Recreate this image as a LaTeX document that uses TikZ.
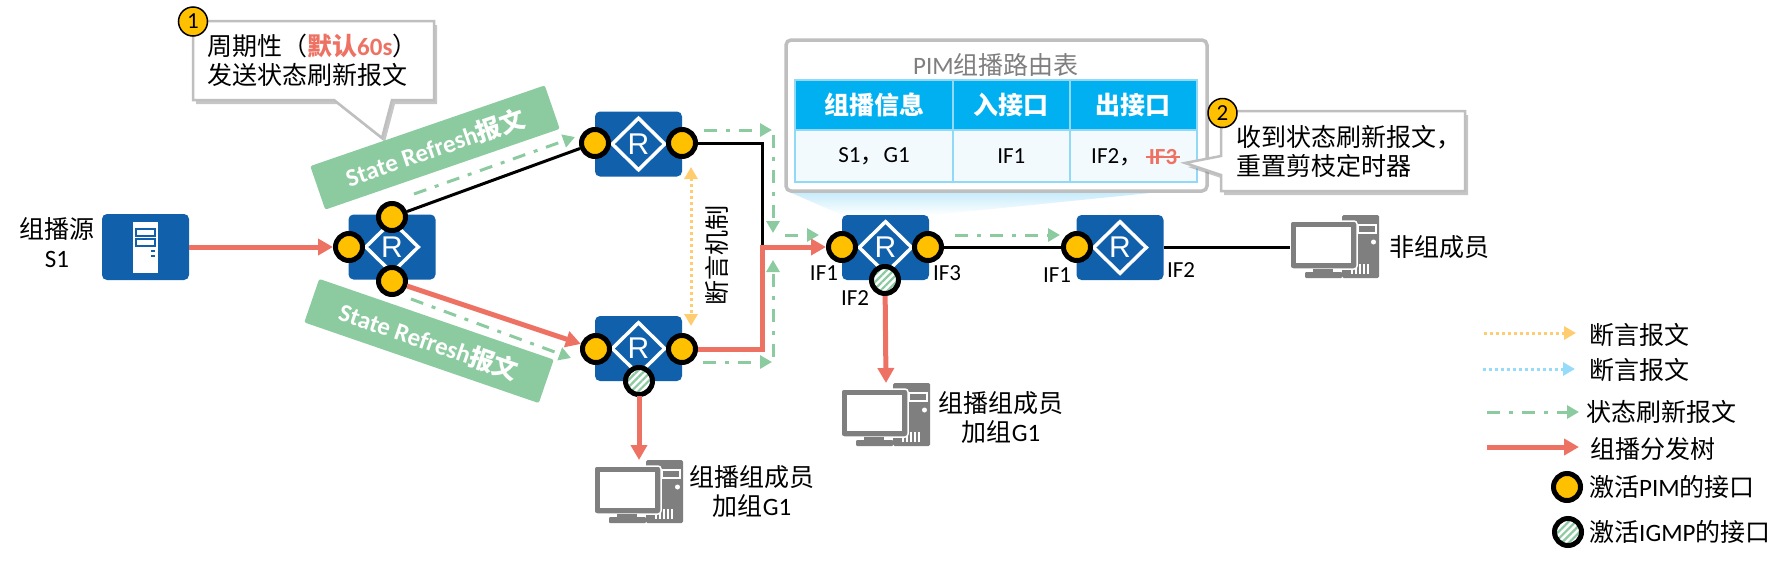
\documentclass[tikz,border=0pt]{standalone}
\usepackage{fontspec}
\setmainfont{Carlito}
\newfontfamily\cjk{Noto Sans CJK SC}
\newfontfamily\rfont{Liberation Sans}
\usetikzlibrary{arrows.meta,shapes.geometric,shadows,patterns.meta}

\definecolor{rblue}{HTML}{1160AB}
\definecolor{pimy}{HTML}{FFC000}
\definecolor{hatchg}{HTML}{8CCBA0}
\definecolor{treered}{HTML}{EE7263}
\definecolor{asserty}{HTML}{FFCC70}
\definecolor{assertb}{HTML}{97DBFB}
\definecolor{boxgray}{HTML}{BFBFBF}
\definecolor{pcgray}{HTML}{7F7F7F}
\definecolor{headblue}{HTML}{00B0F0}
\definecolor{cellblue}{HTML}{F2FAFE}
\definecolor{lineblue}{HTML}{92D9F7}

\newcommand{\zh}[1]{{\cjk #1}}

\tikzset{
  txt/.style={font=\fontsize{25}{29}\selectfont,inner sep=0pt,align=center},
  smalltxt/.style={font=\fontsize{23}{27}\selectfont,inner sep=0pt},
  router/.style={fill=rblue,rounded corners=5pt,minimum width=87pt,minimum height=65pt,inner sep=0pt},
  rmark/.style={shape=diamond,draw=white,line width=3.5pt,minimum width=54pt,minimum height=53pt,inner sep=0pt,text=white,font=\rfont\fontsize{30}{30}\selectfont},
  portbase/.style={circle,draw=black,line width=5pt,minimum size=27pt,inner sep=0pt},
  pimport/.style={portbase,fill=pimy},
  igmpport/.style={portbase,preaction={fill=white},pattern={Lines[angle=45,distance=5pt,line width=2.2pt]},pattern color=hatchg},
  badge/.style={circle,draw=black,fill=pimy,line width=1.5pt,minimum size=29pt,inner sep=0pt,font=\fontsize{23}{23}\selectfont},
  refreshtag/.style={fill=hatchg,rounded corners=2pt,minimum width=248pt,minimum height=46pt,inner sep=0pt,text=white,font=\fontsize{25}{25}\selectfont\bfseries},
  headcell/.style={draw=lineblue,line width=2pt,fill=headblue,text=white,minimum height=50pt,inner sep=0pt,font=\fontsize{25}{25}\selectfont\bfseries},
  bodycell/.style={draw=lineblue,line width=2pt,fill=cellblue,minimum height=52pt,inner sep=0pt,font=\fontsize{23}{23}\selectfont},
  note/.style={draw=boxgray,line width=2.5pt,fill=white,drop shadow={shadow xshift=3pt,shadow yshift=-4pt,opacity=.45}},
  blackline/.style={line width=3pt},
  treeline/.style={draw=treered,line width=5pt,-{Triangle[length=15pt,width=16pt]}},
  refreshline/.style={draw=hatchg,line width=3pt,dash pattern=on 13pt off 9pt on 4pt off 9pt,-{Triangle[length=12pt,width=13pt]}},
  assertline/.style={line width=3pt,dash pattern=on 3pt off 3pt,-{Triangle[length=12pt,width=13pt]}},
  pcicon/.pic={
    \fill[pcgray,rounded corners=1.5pt] (52,0) rectangle (89,63);
    \draw[white,line width=1.3pt] (68,10) rectangle (86,18);
    \fill[white] (83.5,27) circle (2.5);
    \foreach \vx in {62,66,70,74,78} \draw[white,line width=1.2pt] (\vx,49) -- (\vx,59);
    \draw[white,fill=pcgray,line width=1.5pt,rounded corners=3pt] (0,6) rectangle (67,54);
    \fill[white] (6,12) rectangle (61,48);
    \fill[pcgray] (23,54) rectangle (43,58);
    \fill[pcgray,rounded corners=1pt] (15,57) rectangle (52,63);
    \coordinate (-top) at (45,0);
    \coordinate (-left) at (0,32.5);
  }
}

\begin{document}
\begin{tikzpicture}[x=1pt,y=-1pt]
  \useasboundingbox (0,0) rectangle (1791,563);

  % callout 1 and the two green tags
  \draw[note] (193,21) -- (434,21) -- (434,100) -- (392,100) -- (382,138) -- (334,100) -- (193,100) -- cycle;
  \node[txt,align=left,anchor=west] (noteone) at (207,60.5) {\zh{周期性（}\textcolor{treered}{\bfseries\zh{默认}60s}\zh{）}\\\zh{发送状态刷新报文}};
  \node[badge] (badgeone) at (193,21.5) {1};
  \node[refreshtag,rotate=19] (tagup) at (435,147.5) {State Refresh\zh{报文}};
  \node[refreshtag,rotate=-19] (tagdown) at (429,341) {State Refresh\zh{报文}};

  % light cone below the table
  \shade[top color=lineblue!55,bottom color=white] (787,191) -- (1170,191) -- (933,215) -- (842,215) -- cycle;

  % routing table
  \draw[draw=boxgray,line width=3.5pt,fill=white,rounded corners=5pt] (786,40) rectangle (1207,191);
  \node[txt,text=pcgray] (tabletitle) at (996,65) {PIM\zh{组播路由表}};
  \node[headcell,minimum width=158pt] (headinfo) at (874,105) {\zh{组播信息}};
  \node[headcell,minimum width=116.5pt] (headin) at (1011.25,105) {\zh{入接口}};
  \node[headcell,minimum width=127.5pt] (headout) at (1133.25,105) {\zh{出接口}};
  \node[bodycell,minimum width=158pt] (bodyinfo) at (874,156) {S1\zh{，}G1};
  \node[bodycell,minimum width=116.5pt] (bodyin) at (1011.25,156) {IF1};
  \node[bodycell,minimum width=127.5pt] (bodyout) at (1133.25,156) {};
  \node[smalltxt,anchor=west] (ifkeep) at (1091,157) {IF2\zh{，}};
  \node[smalltxt,text=treered,inner xsep=3pt,font=\fontsize{23}{27}\selectfont\bfseries] (ifcut) at (1163,157) {IF3};
  \draw[treered,line width=2.5pt] (ifcut.west) -- (ifcut.east);

  % callout 2
  \draw[note] (1221,111) -- (1465,111) -- (1465,191) -- (1221,191) -- (1221,175) -- (1185,163) -- (1221,156) -- cycle;
  \node[txt,align=left,anchor=west] (notetwo) at (1236,151) {\zh{收到状态刷新报文，}\\\zh{重置剪枝定时器}};
  \node[badge] (badgetwo) at (1222.5,113) {2};

  % multicast source
  \node[fill=rblue,rounded corners=5pt,minimum width=87pt,minimum height=66pt,inner sep=0pt] (srv) at (145.5,247) {};
  \fill[white] (133,222) rectangle (158,273);
  \draw[rblue,line width=1.5pt] (136,229) rectangle (155,236);
  \draw[rblue,line width=1.5pt] (136,239) rectangle (155,246);
  \fill[rblue] (151,250) rectangle (155,252);
  \fill[rblue] (151,255) rectangle (155,257);
  \node[txt] (srvname) at (57,243) {\zh{组播源}\\S1};

  % routers
  \foreach \rname/\rx/\ry in {ra/392/247,rb/638.5/144,rc/638.5/348.5,rd/885.5/247.5,re/1120/247.5} {
    \node[router] (\rname) at (\rx,\ry) {};
    \node[rmark] (\rname m) at (\rx,\ry) {R};
  }

  % interfaces
  \node[pimport] (raw) at (349,247) {};
  \node[pimport] (ran) at (392,217) {};
  \node[pimport] (ras) at (392,281) {};
  \node[pimport] (rbw) at (595,143) {};
  \node[pimport] (rbe) at (682,143) {};
  \node[pimport] (rcw) at (596,349) {};
  \node[pimport] (rce) at (682,349) {};
  \node[igmpport] (rcs) at (639,381) {};
  \node[pimport] (rdw) at (842,247) {};
  \node[pimport] (rde) at (928,247) {};
  \node[igmpport] (rds) at (885,280) {};
  \node[pimport] (rew) at (1077,247) {};

  % hosts
  \pic (pca) at (594,460) {pcicon};
  \pic (pcb) at (841,383) {pcicon};
  \pic (pcc) at (1290,215) {pcicon};

  % black links
  \coordinate (elbow) at (762,247);
  \draw[blackline] (ran) -- (rbw);
  \draw[blackline] (rbe) -| (elbow);
  \draw[blackline] (rde) -- (rew);
  \draw[blackline] (re.east) -- (pcc-left);

  % distribution tree
  \draw[treeline] (srv) -- (raw);
  \draw[treeline] (ras) -- (rcw);
  \draw[treeline] (rce) -| (elbow) -- (rdw);
  \draw[treeline] (rcs) -- (pca-top);
  \draw[treeline] (rds) -- (pcb-top);

  % state refresh flow
  \coordinate (gaa) at (414,194);
  \coordinate (gab) at (575,137);
  \coordinate (gba) at (411,299);
  \coordinate (gbb) at (571,358);
  \coordinate (gca) at (704,130);
  \coordinate (gcb) at (772,130);
  \coordinate (gda) at (773,135);
  \coordinate (gdb) at (773,233);
  \coordinate (gea) at (785,235);
  \coordinate (geb) at (819,235);
  \coordinate (gfa) at (703,362);
  \coordinate (gfb) at (772,362);
  \coordinate (gga) at (773,357);
  \coordinate (ggb) at (773,260);
  \coordinate (gha) at (955,235);
  \coordinate (ghb) at (1060,235);
  \draw[refreshline] (gaa) -- (gab);
  \draw[refreshline] (gba) -- (gbb);
  \draw[refreshline] (gca) -- (gcb);
  \draw[refreshline] (gda) -- (gdb);
  \draw[refreshline] (gea) -- (geb);
  \draw[refreshline] (gfa) -- (gfb);
  \draw[refreshline] (gga) -- (ggb);
  \draw[refreshline] (gha) -- (ghb);

  % assert between the two upstream routers
  \coordinate (ya) at (691,167);
  \coordinate (yb) at (691,326);
  \draw[assertline,draw=asserty,{Triangle[length=12pt,width=13pt]}-{Triangle[length=12pt,width=13pt]}] (ya) -- (yb);
  \node[txt,rotate=90] (assertname) at (717,255) {\zh{断言机制}};

  % interface labels
  \node[smalltxt] (lifa) at (824,273) {IF1};
  \node[smalltxt] (lifb) at (855,298) {IF2};
  \node[smalltxt] (lifc) at (947,273) {IF3};
  \node[smalltxt] (lifd) at (1057,275) {IF1};
  \node[smalltxt] (life) at (1181,270) {IF2};

  % host labels
  \node[txt] (pcaname) at (752,492) {\zh{组播组成员}\\\zh{加组}G1};
  \node[txt] (pcbname) at (1001,417.5) {\zh{组播组成员}\\\zh{加组}G1};
  \node[txt] (pccname) at (1439,247) {\zh{非组成员}};

  % legend
  \coordinate (laa) at (1484,333);
  \coordinate (lab) at (1576,333);
  \coordinate (lba) at (1483,369);
  \coordinate (lbb) at (1575,369);
  \coordinate (lca) at (1487,412);
  \coordinate (lcb) at (1579,412);
  \coordinate (lda) at (1487,447);
  \coordinate (ldb) at (1579,447);
  \draw[assertline,draw=asserty] (laa) -- (lab);
  \draw[assertline,draw=assertb] (lba) -- (lbb);
  \draw[refreshline] (lca) -- (lcb);
  \draw[treeline] (lda) -- (ldb);
  \node[pimport] (lportp) at (1567,487) {};
  \node[igmpport] (lporti) at (1568,532) {};
  \node[txt,anchor=west] (lga) at (1589,335) {\zh{断言报文}};
  \node[txt,anchor=west] (lgb) at (1589,370) {\zh{断言报文}};
  \node[txt,anchor=west] (lgc) at (1586,412) {\zh{状态刷新报文}};
  \node[txt,anchor=west] (lgd) at (1590,449) {\zh{组播分发树}};
  \node[txt,anchor=west] (lge) at (1589,487) {\zh{激活}PIM\zh{的接口}};
  \node[txt,anchor=west] (lgf) at (1589,532) {\zh{激活}IGMP\zh{的接口}};

\end{tikzpicture}
\end{document}
